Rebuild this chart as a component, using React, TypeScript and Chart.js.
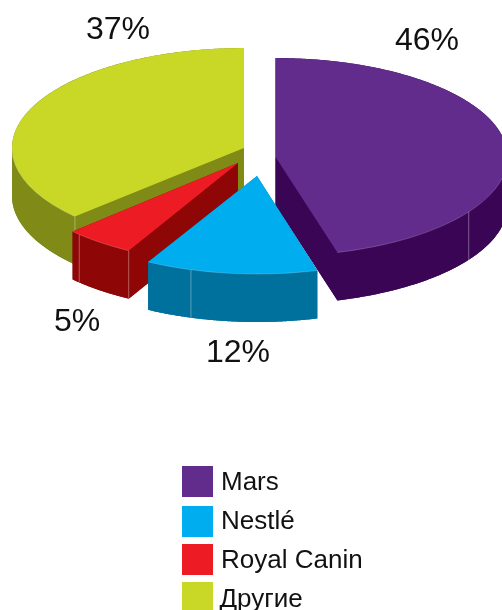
import React, { useEffect, useRef } from "react";
import { Chart, registerables } from "chart.js";

Chart.register(...registerables);

const categories = ["Mars", "Nestlé", "Royal Canin", "Другие"];
const shares = [45.7, 12.3, 5, 37];
const topColors = ["#622C8C", "#00ADEE", "#ED1C24", "#C9D727"];
const sideColors = ["#3B0556", "#00709C", "#8E0606", "#7F8A17"];

// Exploded apex of each slice on the page and the tilt of the pie
const apexX = [275.5, 257, 238, 244];
const apexY = [157, 176, 163, 148];
const scaleX = [1, 0.974, 0.978, 1];
const scaleY = [99 / 232, 98 / 232, 100 / 232, 100 / 232];
const RADIUS = 232;
const DEPTH = 48;
const paintOrder = [3, 0, 2, 1];

// Faint vertical seams on the rim: [slice, degrees clockwise from top]
const seams = [[0, 123.6], [1, 197], [2, 208.8], [2, 224.4], [3, 226.8]];

// Percent labels: [x, baseline y]
const labelPos = [[395, 50], [206, 362], [54, 331], [86, 39]];

const legendX = [221, 221, 221, 219.5];
const legendY = [466, 506, 544, 582];
const legendBaseline = [490, 529, 568, 607];
const FONT = '"Liberation Sans", Arial, sans-serif';

const pie3d = {
  id: "pie3d",
  beforeDatasetsDraw(chart: any) {
    const ctx = chart.ctx;
    const arcs = chart.getDatasetMeta(0).data;
    for (const i of paintOrder) {
      const el = arcs[i];
      const ax = apexX[i];
      const ay = apexY[i];
      const rx = el.outerRadius * scaleX[i];
      const ry = el.outerRadius * scaleY[i];
      const pt = (a: number, dy: number): [number, number] => [
        ax + rx * Math.cos(a),
        ay + dy + ry * Math.sin(a),
      ];
      const fillPoly = (pts: [number, number][]) => {
        ctx.beginPath();
        pts.forEach((p, k) => (k ? ctx.lineTo(p[0], p[1]) : ctx.moveTo(p[0], p[1])));
        ctx.closePath();
        ctx.fill();
      };
      const N = 160;
      const s = el.startAngle;
      const e = el.endAngle;
      const sample = (from: number, to: number, dy: number) => {
        const out: [number, number][] = [];
        for (let k = 0; k <= N; k++) out.push(pt(from + ((to - from) * k) / N, dy));
        return out;
      };
      // extruded body: bottom face, the two cut faces and the rim band,
      // split where the rim turns back so the band never folds over itself
      ctx.fillStyle = sideColors[i];
      fillPoly([[ax, ay + DEPTH], ...sample(s, e, DEPTH)]);
      fillPoly([[ax, ay], pt(s, 0), pt(s, DEPTH), [ax, ay + DEPTH]]);
      fillPoly([[ax, ay], pt(e, 0), pt(e, DEPTH), [ax, ay + DEPTH]]);
      const breaks = [s, ...[0, Math.PI].filter((b) => b > s && b < e), e];
      for (let b = 0; b < breaks.length - 1; b++) {
        fillPoly([
          ...sample(breaks[b], breaks[b + 1], 0),
          ...sample(breaks[b], breaks[b + 1], DEPTH).reverse(),
        ]);
      }
      // seams
      ctx.strokeStyle = "rgba(255,255,255,0.35)";
      ctx.lineWidth = 1;
      for (const [slice, deg] of seams) {
        if (slice !== i) continue;
        const a = ((deg - 90) * Math.PI) / 180;
        const [x, y] = pt(a, 0);
        ctx.beginPath();
        ctx.moveTo(x, y);
        ctx.lineTo(x, y + DEPTH);
        ctx.stroke();
      }
      // top face, drawn by the library's own arc element
      ctx.save();
      ctx.translate(ax, ay);
      ctx.scale(scaleX[i], scaleY[i]);
      ctx.translate(-el.x, -el.y);
      el.draw(ctx);
      ctx.restore();
      // thin light rim on the front half only
      const fs = Math.max(s, 0);
      const fe = Math.min(e, Math.PI);
      if (fe > fs) {
        ctx.beginPath();
        sample(fs, fe, 0).forEach((p, k) => (k ? ctx.lineTo(p[0], p[1]) : ctx.moveTo(p[0], p[1])));
        ctx.strokeStyle = "rgba(255,255,255,0.3)";
        ctx.lineWidth = 0.7;
        ctx.stroke();
      }
    }
    return false;
  },
  afterDraw(chart: any) {
    const ctx = chart.ctx;
    const values = chart.data.datasets[0].data;
    ctx.save();
    ctx.fillStyle = "#111111";
    ctx.textAlign = "left";
    ctx.textBaseline = "alphabetic";
    ctx.font = `32px ${FONT}`;
    values.forEach((v: number, i: number) => {
      ctx.fillText(`${Math.round(v)}%`, labelPos[i][0], labelPos[i][1]);
    });
    ctx.font = `26px ${FONT}`;
    chart.data.labels.forEach((name: string, i: number) => {
      ctx.fillStyle = topColors[i];
      ctx.fillRect(182, legendY[i], 31, 31);
      ctx.fillStyle = "#111111";
      ctx.fillText(name, legendX[i], legendBaseline[i]);
    });
    ctx.restore();
  },
};

export default function App() {
  const ref = useRef<HTMLCanvasElement>(null);
  useEffect(() => {
    const chart = new Chart(ref.current as HTMLCanvasElement, {
      type: "pie",
      data: {
        labels: categories,
        datasets: [
          {
            data: shares,
            backgroundColor: topColors,
            borderWidth: 0,
          },
        ],
      },
      options: {
        animation: false,
        responsive: false,
        radius: RADIUS,
        layout: { padding: 0 },
        plugins: { legend: { display: false }, tooltip: { enabled: false } },
      } as any,
      plugins: [pie3d],
    });
    return () => chart.destroy();
  }, []);
  return (
    <canvas
      ref={ref}
      width={502}
      height={610}
      style={{ position: "absolute", left: 0, top: 0, width: 502, height: 610, display: "block" }}
    />
  );
}
